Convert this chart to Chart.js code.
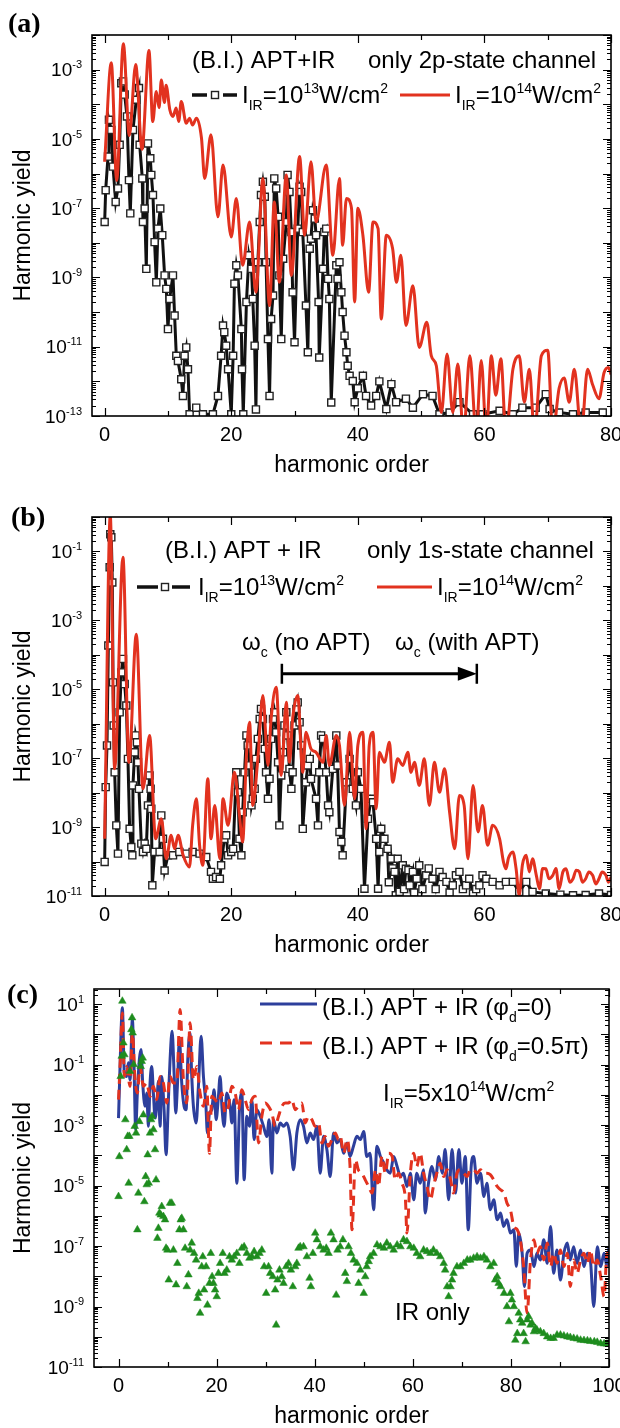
<!DOCTYPE html>
<html><head><meta charset="utf-8">
<script src="https://cdn.jsdelivr.net/npm/chart.js@4.4.1/dist/chart.umd.min.js"></script>
<style>html,body{margin:0;padding:0;background:#fff;}canvas{display:block;}</style>
</head><body>
<canvas id="ca" width="620" height="476"></canvas>
<canvas id="cb" width="620" height="476"></canvas>
<canvas id="cc" width="620" height="476"></canvas>
<script>
// ---------- DATA : [harmonic order, log10(yield)] ----------
const aRed = [[0,-5.66],[1.05,-2.8],[1.9,-6.2],[2.95,-2.25],[3.9,-4.9],[4.9,-2.85],[5.9,-5.3],[7.0,-2.45],[7.6,-4.5],[8.15,-3.63],[8.6,-4.1],[8.95,-3.3],[9.45,-3.95],[9.7,-3.45],[10.3,-4.16],[10.8,-4.35],[11.3,-4.11],[11.7,-4.5],[12.1,-3.92],[12.9,-4.55],[13.4,-4.4],[13.9,-4.6],[14.5,-4.4],[15.3,-4.98],[15.8,-6.14],[16.8,-4.88],[17.9,-7.25],[18.7,-5.75],[20.0,-7.83],[20.8,-6.72],[21.8,-8.65],[22.9,-7.4],[23.9,-9.43],[25.0,-6.14],[26.05,-9.81],[26.8,-6.82],[27.6,-9.14],[28.7,-6.04],[29.5,-8.94],[30.8,-5.51],[31.6,-7.78],[32.6,-5.66],[33.4,-7.4],[35.0,-5.75],[36.05,-8.36],[37.1,-6.14],[37.6,-8.07],[38.2,-6.72],[39.0,-7.0],[39.5,-9.71],[40.0,-7.0],[40.8,-7.78],[41.7,-9.43],[42.4,-7.4],[43.2,-7.59],[43.7,-10.2],[44.5,-7.78],[45.5,-8.17],[46.1,-9.14],[46.8,-8.36],[47.6,-10.39],[48.7,-9.24],[49.7,-11.02],[50.9,-10.29],[51.6,-11.26],[52.4,-11.55],[53.2,-12.9],[54.1,-11.21],[55.0,-12.9],[55.8,-11.5],[56.7,-13.5],[57.7,-11.26],[58.7,-13.5],[59.5,-11.4],[60.3,-13.5],[61.1,-11.26],[61.8,-12.4],[62.6,-11.35],[63.4,-13.5],[64.5,-11.65],[65.5,-11.26],[66.3,-12.6],[67.1,-11.65],[67.9,-13.5],[69.0,-11.26],[70.0,-11.1],[70.8,-13.5],[71.8,-12.2],[72.6,-11.9],[73.4,-12.6],[74.2,-11.65],[75.3,-13.5],[76.3,-11.65],[77.1,-12.1],[78.1,-12.5],[78.9,-11.75],[79.6,-11.6],[80,-11.8]];
const aBlk = [[0,-7.4],[0.16,-6.48],[0.53,-5.51],[0.68,-4.45],[1.05,-4.74],[1.32,-5.8],[1.74,-6.82],[2.1,-6.43],[2.37,-5.17],[2.63,-3.39],[2.89,-3.34],[3.16,-3.72],[3.53,-4.35],[3.84,-6.19],[4.05,-7.15],[4.47,-4.74],[5.0,-3.87],[5.42,-3.53],[5.53,-5.17],[5.95,-6.14],[6.05,-7.4],[6.32,-7.01],[6.58,-8.75],[6.84,-5.13],[7.21,-5.56],[7.37,-6.04],[7.63,-6.62],[7.89,-7.98],[8.16,-9.14],[8.42,-7.59],[8.79,-7.01],[9.1,-7.78],[9.47,-8.94],[9.74,-9.33],[10.0,-10.49],[10.26,-9.62],[10.79,-8.94],[11.05,-10.1],[11.32,-11.26],[11.58,-11.41],[12.1,-11.94],[12.37,-12.42],[12.63,-11.26],[12.89,-11.02],[13.16,-11.65],[13.42,-12.95],[14.47,-12.76],[15.53,-12.95],[17.1,-12.95],[17.9,-12.42],[18.4,-11.26],[18.7,-10.39],[18.9,-10.58],[19.2,-10.97],[19.5,-11.65],[20.0,-12.95],[20.3,-11.26],[20.5,-9.18],[20.8,-8.65],[21.05,-8.94],[21.6,-10.49],[21.7,-11.65],[21.9,-12.95],[22.4,-9.71],[22.8,-8.36],[23.2,-8.75],[23.4,-9.62],[23.7,-10.97],[23.9,-12.81],[24.2,-8.56],[24.5,-7.4],[24.7,-6.62],[25.0,-6.24],[25.3,-6.67],[25.5,-8.56],[25.8,-10.78],[26.05,-12.42],[26.3,-10.2],[26.6,-9.52],[26.8,-6.14],[27.1,-6.43],[27.4,-7.25],[27.6,-8.94],[27.9,-10.78],[28.2,-8.46],[28.7,-7.4],[28.9,-6.04],[29.2,-6.53],[29.5,-7.69],[29.7,-9.43],[30.0,-10.87],[30.5,-7.59],[30.8,-6.38],[31.05,-6.53],[31.3,-7.69],[31.8,-9.81],[32.1,-11.16],[32.4,-8.17],[32.6,-7.88],[32.9,-7.06],[33.2,-7.3],[33.4,-7.78],[33.8,-9.71],[33.9,-11.31],[34.5,-8.75],[34.7,-7.69],[35.0,-7.59],[35.3,-9.04],[35.5,-9.62],[35.8,-12.61],[36.6,-8.65],[36.8,-9.04],[37.1,-8.56],[37.4,-9.43],[37.6,-10.0],[37.9,-10.68],[38.2,-11.16],[38.4,-11.55],[38.7,-11.84],[39.2,-11.99],[39.5,-12.6],[40.0,-12.2],[40.8,-11.84],[41.3,-12.42],[42.1,-12.7],[42.9,-12.42],[43.4,-12.0],[44.5,-12.8],[45.3,-12.08],[46.05,-12.6],[47.6,-12.5],[48.7,-12.76],[50.3,-12.37],[51.8,-12.42],[52.9,-12.95],[54.5,-12.9],[56.05,-12.6],[58.2,-12.95],[59.7,-12.95],[62.4,-12.85],[64.5,-12.95],[66.0,-12.76],[68.1,-12.76],[69.7,-12.37],[70.3,-12.8],[71.8,-12.9],[74.0,-12.95],[76.0,-12.9],[78.7,-12.9]];
const bRed = [[0,-9.34],[0.89,0.05],[1.58,-7.31],[2.89,-1.17],[3.84,-7.12],[5.0,-3.4],[6.05,-7.89],[7.1,-6.34],[8.05,-9.34],[8.95,-8.76],[9.74,-9.92],[10.5,-9.24],[11.05,-9.63],[11.6,-9.24],[12.4,-9.82],[13.4,-10.16],[13.9,-8.95],[14.5,-8.18],[15.0,-9.53],[15.5,-10.11],[16.3,-7.6],[16.8,-9.34],[17.4,-8.37],[18.2,-9.92],[18.7,-8.18],[19.5,-8.95],[20.5,-7.41],[21.3,-8.66],[21.8,-9.43],[22.4,-6.92],[22.9,-5.96],[23.4,-8.37],[24.2,-7.02],[25.0,-5.18],[25.8,-7.21],[26.3,-5.86],[27.1,-4.94],[27.9,-7.5],[28.7,-5.38],[29.2,-7.12],[29.7,-5.86],[30.5,-5.18],[31.3,-7.41],[31.8,-6.25],[32.6,-6.73],[33.4,-6.83],[34.5,-7.12],[35.0,-6.34],[35.5,-7.21],[36.6,-6.34],[37.1,-6.63],[37.9,-8.37],[38.7,-6.25],[39.5,-8.18],[40.0,-6.63],[40.8,-6.25],[41.3,-9.05],[41.8,-6.63],[42.4,-6.25],[42.9,-8.47],[43.4,-6.83],[44.2,-7.12],[45.0,-6.54],[45.5,-7.7],[46.3,-7.02],[47.1,-7.21],[47.9,-6.83],[48.4,-7.41],[48.95,-7.12],[49.7,-7.79],[50.5,-7.02],[51.3,-8.37],[52.1,-7.12],[52.9,-7.99],[53.7,-7.31],[54.5,-8.57],[55.3,-9.63],[56.05,-8.08],[56.8,-8.37],[57.4,-9.92],[58.2,-7.79],[59.0,-9.14],[59.7,-8.37],[60.5,-9.53],[61.3,-8.95],[62.4,-9.34],[63.0,-10.0],[63.4,-10.21],[63.8,-9.9],[64.5,-9.72],[65.0,-10.2],[65.5,-10.98],[66.0,-10.1],[66.6,-9.82],[67.1,-10.3],[67.6,-9.92],[68.2,-10.4],[68.7,-10.79],[69.2,-10.2],[69.7,-10.21],[70.2,-10.5],[70.8,-10.4],[71.3,-10.2],[71.8,-10.79],[72.4,-10.3],[72.9,-10.21],[73.5,-10.6],[74.0,-10.5],[74.5,-10.25],[75.0,-10.3],[75.5,-10.6],[76.0,-10.5],[76.5,-10.3],[77.1,-10.4],[77.6,-10.65],[78.1,-10.5],[78.6,-10.3],[79.2,-10.4],[79.6,-10.6],[80,-10.45]];
const bBlk = [[0,-10.01],[0.16,-7.84],[0.37,-6.63],[0.58,-3.73],[0.79,-1.46],[0.89,-0.5],[1.05,-0.59],[1.21,-1.9],[1.32,-4.8],[1.42,-6.05],[1.58,-7.41],[1.84,-8.95],[2.1,-9.77],[2.37,-5.67],[2.63,-4.51],[2.89,-4.12],[3.16,-4.85],[3.42,-5.47],[3.68,-7.02],[3.95,-9.05],[4.21,-9.58],[4.37,-9.82],[4.47,-7.79],[4.74,-6.83],[4.89,-6.34],[5.1,-6.54],[5.26,-7.12],[5.42,-7.89],[5.79,-9.48],[6.05,-9.72],[6.32,-9.48],[6.58,-9.63],[6.84,-8.37],[7.1,-7.5],[7.26,-7.89],[7.37,-8.47],[7.53,-10.69],[7.89,-9.72],[8.68,-9.72],[8.95,-8.66],[9.21,-9.34],[9.47,-10.26],[10.0,-9.82],[10.8,-9.82],[11.8,-9.72],[12.9,-9.77],[13.9,-9.72],[15.0,-9.77],[16.05,-9.87],[16.8,-10.3],[17.1,-10.5],[17.6,-10.45],[18.2,-10.5],[18.4,-10.11],[18.9,-9.34],[19.2,-9.24],[19.5,-9.82],[20.0,-9.72],[20.3,-9.63],[20.8,-7.41],[21.05,-7.99],[21.3,-9.34],[21.6,-9.82],[21.8,-8.57],[22.1,-7.41],[22.4,-6.34],[22.6,-6.63],[22.9,-7.21],[23.2,-8.37],[23.4,-8.18],[23.7,-7.89],[23.9,-7.02],[24.2,-6.44],[24.5,-5.86],[24.7,-5.57],[25.0,-5.86],[25.3,-6.73],[25.5,-7.41],[25.8,-8.18],[26.05,-7.6],[26.3,-6.44],[26.6,-5.86],[26.8,-5.67],[27.1,-6.25],[27.4,-7.12],[27.6,-8.95],[27.9,-7.5],[28.2,-6.83],[28.4,-6.05],[28.7,-5.67],[28.9,-6.34],[29.2,-7.31],[29.5,-7.89],[29.7,-7.41],[30.0,-6.05],[30.3,-5.57],[30.5,-5.38],[30.8,-5.96],[31.05,-6.63],[31.3,-9.05],[31.8,-7.7],[32.1,-7.21],[32.4,-7.02],[32.6,-7.6],[33.4,-8.18],[33.7,-8.95],[33.9,-7.41],[34.2,-6.34],[34.5,-6.44],[35.0,-7.41],[35.3,-8.37],[35.5,-8.57],[36.05,-7.31],[36.6,-6.34],[36.8,-7.21],[37.1,-9.14],[37.4,-9.43],[37.6,-9.82],[38.2,-7.7],[38.7,-7.02],[39.2,-7.89],[39.7,-8.37],[40.0,-7.41],[40.5,-7.89],[41.05,-10.79],[41.6,-8.76],[42.1,-8.18],[42.4,-8.28],[42.9,-9.34],[43.2,-10.79],[43.4,-9.72],[43.7,-9.05],[44.2,-9.34],[44.7,-9.63],[44.9,-10.6],[45.3,-9.92],[45.5,-10.2],[45.8,-10.3],[46.0,-10.98],[46.3,-9.92],[46.6,-10.88],[47.1,-10.11],[47.3,-10.8],[47.6,-10.21],[48.0,-10.25],[48.2,-10.69],[48.7,-10.3],[48.9,-10.9],[49.3,-10.5],[49.7,-10.11],[50.2,-10.8],[50.8,-10.4],[51.2,-10.2],[51.8,-10.5],[52.3,-10.8],[52.9,-10.3],[53.4,-10.45],[54.0,-10.59],[54.5,-10.9],[55.0,-10.69],[55.5,-10.4],[56.05,-10.3],[56.6,-10.8],[57.1,-10.69],[57.6,-10.5],[58.2,-10.93],[58.7,-10.8],[59.2,-10.69],[59.7,-10.4],[60.3,-10.5],[61.3,-10.59],[62.4,-10.69],[63.4,-10.59],[64.5,-10.59],[65.5,-10.88],[66.6,-10.59],[67.6,-10.88],[69.7,-10.93],[72.0,-10.96],[74.0,-10.98],[76.0,-10.97],[78.1,-10.93],[80,-10.97]];
const cBlue = [[0,-2.77],[0.31,-1.06],[0.78,0.88],[1.19,-1.28],[1.67,-1.39],[2.0,-0.94],[2.35,-1.5],[2.82,0.49],[3.16,-1.06],[3.5,-3.15],[3.84,-1.94],[4.25,-0.83],[4.59,-0.5],[4.93,-1.61],[5.41,-2.38],[5.75,-1.94],[6.09,-3.04],[6.43,-1.61],[6.77,-1.06],[7.11,-1.94],[7.45,-2.77],[7.79,-2.38],[8.13,-1.55],[8.47,-3.04],[8.81,-1.39],[9.29,-2.49],[9.69,-3.98],[10.17,-2.16],[10.51,-0.83],[10.92,0.1],[11.33,-1.28],[11.67,-2.6],[12.0,-1.72],[12.41,-0.17],[12.89,-1.61],[13.37,-2.38],[13.78,-2.49],[14.12,-0.83],[14.59,0.05],[14.93,-1.39],[15.27,-2.38],[15.82,-2.93],[16.29,-1.72],[16.84,-0.06],[17.31,-1.39],[17.79,-2.27],[18.13,-3.26],[18.54,-2.6],[19.01,-2.49],[19.49,-1.83],[19.9,-2.82],[20.37,-2.05],[20.71,-1.39],[21.12,-2.49],[21.53,-3.04],[22.07,-1.94],[22.76,-2.38],[23.1,-2.93],[23.57,-2.16],[24.12,-4.92],[24.66,-2.49],[25.14,-1.94],[25.61,-4.81],[26.16,-2.71],[26.7,-3.04],[27.18,-2.16],[27.65,-3.48],[28.2,-2.49],[28.88,-2.71],[29.56,-3.04],[30.24,-3.38],[30.71,-2.82],[31.26,-4.59],[31.6,-2.82],[32.28,-3.26],[32.96,-2.93],[33.64,-3.04],[34.32,-2.93],[35.0,-3.38],[35.68,-4.48],[36.36,-3.26],[37.04,-2.82],[37.72,-3.04],[38.4,-3.59],[39.08,-3.26],[39.76,-3.48],[40.44,-3.04],[41.12,-4.59],[41.8,-3.37],[42.48,-3.81],[43.16,-4.7],[43.84,-3.26],[44.52,-3.59],[45.2,-3.48],[45.9,-3.93],[46.6,-3.59],[47.2,-4.04],[47.9,-3.7],[48.6,-3.37],[49.3,-3.48],[50.0,-3.21],[50.6,-4.04],[51.3,-3.93],[52.0,-5.8],[52.7,-3.7],[53.4,-4.04],[54.1,-4.26],[54.7,-4.48],[55.4,-4.59],[56.1,-4.04],[56.8,-4.37],[57.5,-4.7],[58.1,-4.59],[58.8,-5.03],[59.5,-4.59],[60.2,-5.47],[60.8,-4.59],[61.5,-4.92],[62.2,-4.48],[62.5,-5.91],[63.2,-4.92],[63.9,-4.37],[64.6,-4.81],[65.3,-4.04],[66.0,-4.59],[66.6,-3.81],[67.3,-5.47],[68.0,-3.81],[68.7,-5.25],[69.4,-3.81],[70.0,-4.92],[70.7,-4.04],[71.3,-6.46],[71.9,-4.37],[72.4,-4.04],[73.1,-4.92],[73.8,-4.59],[74.5,-5.36],[75.1,-4.92],[75.8,-5.8],[76.5,-5.47],[77.2,-6.13],[77.9,-5.91],[78.5,-6.35],[79.2,-6.13],[79.9,-6.57],[80.6,-6.46],[81.1,-7.67],[81.6,-6.57],[82.3,-7.24],[82.75,-8.34],[83.3,-7.24],[84.0,-7.13],[84.7,-7.68],[85.3,-7.24],[86.0,-7.46],[86.7,-6.79],[87.4,-7.57],[88.1,-6.35],[88.7,-7.9],[89.4,-7.13],[90.1,-8.12],[90.8,-7.24],[91.5,-6.9],[92.1,-7.46],[92.8,-7.02],[93.5,-7.57],[94.2,-7.13],[94.9,-7.68],[95.6,-7.24],[96.2,-7.46],[96.9,-9.0],[97.6,-7.02],[98.3,-7.68],[99.0,-7.24],[99.6,-7.68],[100,-7.02]];
const cRed = [[0,-2.16],[0.31,-1.06],[0.78,0.71],[1.19,-1.39],[1.67,-1.06],[2.35,-1.72],[2.82,0.05],[3.37,-1.5],[3.84,-1.94],[4.39,-1.06],[5.07,-1.72],[5.75,-1.61],[6.43,-2.05],[7.11,-1.72],[7.79,-2.16],[8.47,-1.39],[9.15,-1.61],[9.83,-2.27],[10.51,-1.39],[11.19,-1.61],[11.87,-1.61],[12.55,0.82],[13.23,-1.5],[13.91,-2.27],[14.59,0.38],[15.27,-1.5],[15.95,-1.06],[16.63,-1.94],[17.31,-2.38],[17.99,-1.72],[18.54,-3.93],[19.01,-2.05],[19.69,-2.16],[20.37,-2.27],[21.05,-1.94],[21.73,-2.6],[22.41,-2.38],[23.1,-1.72],[23.78,-1.94],[24.46,-2.49],[25.14,-1.83],[25.82,-2.16],[26.5,-2.49],[27.18,-2.16],[27.86,-2.05],[28.54,-3.59],[29.22,-2.71],[29.9,-2.27],[30.58,-2.38],[31.26,-2.6],[31.94,-3.04],[32.62,-2.71],[33.3,-2.38],[33.98,-2.27],[34.66,-2.27],[35.34,-2.16],[36.02,-2.49],[36.7,-2.38],[37.38,-2.27],[38.06,-2.93],[38.74,-2.71],[39.42,-2.82],[40.1,-3.04],[40.78,-2.93],[41.46,-3.59],[42.14,-3.38],[42.82,-3.7],[43.5,-3.48],[44.18,-3.26],[44.86,-3.48],[45.2,-3.37],[45.9,-3.93],[46.6,-3.48],[47.2,-4.37],[47.6,-6.46],[48.3,-4.15],[48.9,-4.48],[49.6,-4.59],[50.3,-4.81],[51.0,-5.03],[51.7,-5.25],[52.4,-4.48],[53.0,-5.03],[53.7,-4.04],[54.4,-4.59],[55.1,-3.93],[55.8,-4.04],[56.4,-4.81],[57.1,-4.59],[57.8,-4.92],[58.5,-5.47],[58.8,-6.57],[59.5,-4.59],[60.2,-3.93],[60.8,-4.37],[61.5,-3.93],[62.2,-4.59],[62.9,-5.03],[63.6,-5.47],[64.2,-5.03],[64.9,-4.59],[65.6,-4.26],[66.3,-4.7],[67.0,-4.48],[67.7,-4.81],[68.3,-5.25],[69.0,-4.59],[69.7,-4.48],[70.4,-4.59],[71.1,-4.7],[71.7,-4.48],[72.4,-4.48],[73.1,-4.59],[73.8,-4.48],[74.5,-4.59],[75.1,-4.59],[75.8,-4.64],[76.5,-4.81],[77.2,-5.03],[77.9,-5.14],[78.6,-5.25],[79.2,-5.58],[79.9,-5.8],[80.6,-6.35],[81.3,-6.46],[81.9,-6.79],[82.6,-7.68],[83.3,-9.22],[84.0,-7.46],[84.7,-6.79],[85.3,-7.24],[86.0,-7.02],[86.7,-7.46],[87.4,-6.9],[88.1,-7.68],[88.7,-7.24],[89.4,-7.57],[90.1,-7.13],[90.8,-7.68],[91.5,-7.24],[92.1,-8.34],[92.8,-7.46],[93.5,-7.9],[94.2,-7.46],[94.9,-7.24],[95.6,-7.57],[96.2,-7.13],[96.9,-7.68],[97.6,-7.46],[98.3,-8.01],[99.0,-8.67],[99.6,-7.24],[100,-7.3]];
const cGreen = [[0,-5.36],[0.17,-4.04],[0.44,-1.39],[0.65,-0.72],[0.78,1.1],[0.99,-0.28],[1.19,-0.67],[1.39,-2.82],[1.67,-3.81],[1.87,-3.37],[2.07,-4.92],[2.21,-3.37],[2.35,-1.22],[2.62,0.16],[2.76,0.55],[2.89,0.05],[3.1,-1.0],[3.3,-3.04],[3.57,-3.26],[3.84,-6.46],[4.05,-5.25],[4.25,-2.88],[4.52,-1.06],[4.73,-0.89],[4.93,-0.78],[5.07,-2.66],[5.27,-5.53],[5.54,-4.7],[5.75,-4.97],[5.95,-3.98],[6.16,-4.92],[6.43,-3.26],[6.63,-2.82],[6.84,-2.71],[7.11,-3.15],[7.45,-3.81],[7.65,-4.81],[7.93,-6.74],[8.13,-6.41],[8.33,-5.91],[8.61,-5.97],[8.81,-5.69],[9.15,-6.02],[9.49,-6.13],[9.69,-7.07],[9.97,-7.13],[10.24,-8.12],[10.51,-5.58],[10.85,-5.58],[11.19,-7.13],[11.73,-8.28],[12.0,-7.57],[12.41,-6.46],[12.69,-6.13],[12.89,-6.08],[13.23,-6.46],[13.57,-7.07],[13.91,-8.34],[14.25,-7.95],[14.59,-7.13],[14.93,-6.9],[15.41,-7.24],[15.82,-7.46],[16.09,-8.73],[16.36,-8.56],[16.63,-9.22],[16.97,-7.68],[17.18,-7.35],[17.45,-8.45],[17.86,-7.68],[18.13,-8.95],[18.54,-8.23],[18.81,-7.24],[19.08,-8.01],[19.35,-8.23],[19.69,-8.45],[20.03,-8.67],[20.37,-7.9],[20.71,-7.57],[21.26,-7.24],[21.6,-7.9],[22.07,-7.79],[22.62,-7.35],[23.1,-7.46],[23.57,-7.35],[24.12,-7.24],[24.66,-7.57],[25.14,-7.07],[25.61,-7.02],[26.16,-7.24],[26.7,-7.4],[27.18,-7.35],[27.65,-7.18],[28.2,-7.35],[28.74,-7.24],[29.22,-7.13],[29.69,-7.68],[30.1,-8.56],[30.58,-7.68],[30.92,-7.9],[31.46,-8.01],[31.94,-8.45],[32.14,-9.61],[32.41,-8.12],[32.82,-7.79],[33.3,-8.01],[33.64,-8.23],[34.18,-7.68],[34.66,-7.57],[35.14,-7.79],[35.54,-8.34],[36.02,-7.68],[36.36,-7.57],[36.7,-7.07],[37.04,-7.02],[37.72,-7.02],[38.4,-7.35],[38.95,-8.06],[39.22,-8.34],[39.63,-7.24],[40.1,-6.57],[40.44,-6.79],[41.12,-7.02],[41.8,-7.13],[42.35,-7.07],[42.82,-7.24],[43.3,-6.57],[43.84,-6.79],[44.38,-8.62],[44.65,-7.13],[45.2,-7.02],[45.75,-6.79],[46.22,-7.9],[46.56,-8.17],[46.9,-7.02],[47.38,-7.24],[47.93,-7.46],[48.6,-7.57],[48.95,-8.23],[49.3,-7.79],[50.0,-8.56],[50.3,-8.01],[50.6,-7.68],[51.0,-7.51],[51.3,-7.35],[52.0,-7.24],[52.7,-6.96],[53.4,-7.02],[54.1,-7.07],[54.7,-6.9],[55.4,-7.02],[56.1,-7.13],[56.8,-6.96],[57.5,-7.02],[58.1,-6.79],[58.8,-6.85],[59.5,-7.02],[60.2,-7.07],[60.8,-7.24],[61.5,-7.35],[62.2,-7.13],[62.9,-7.18],[63.6,-7.24],[64.2,-7.13],[64.9,-7.24],[65.6,-7.35],[66.3,-7.57],[66.6,-7.79],[67.0,-8.34],[67.3,-8.67],[67.7,-8.34],[68.0,-8.12],[68.3,-7.9],[69.0,-7.68],[69.7,-7.68],[70.4,-7.57],[71.1,-7.46],[71.7,-7.46],[72.4,-7.4],[73.1,-7.35],[73.8,-7.4],[74.5,-7.35],[75.1,-7.46],[75.8,-7.68],[76.5,-7.57],[76.8,-8.12],[77.2,-8.01],[77.5,-8.23],[77.9,-8.34],[78.6,-8.56],[79.2,-9.0],[79.6,-9.5],[79.9,-8.56],[80.2,-8.78],[80.6,-9.0],[80.9,-10.11],[81.3,-9.89],[81.6,-9.22],[81.9,-9.44],[82.3,-9.55],[82.6,-9.89],[83.0,-10.16],[83.3,-9.44],[83.6,-9.33],[84.0,-9.61],[84.3,-9.55],[84.7,-9.83],[85.0,-9.72],[85.3,-9.77],[86.0,-9.83],[86.7,-9.89],[87.4,-10.0],[88.1,-10.05],[88.7,-10.05],[89.4,-9.94],[90.1,-9.94],[90.8,-9.97],[91.5,-10.0],[92.1,-10.02],[92.8,-10.05],[93.5,-10.07],[94.2,-10.11],[94.9,-10.12],[95.6,-10.13],[96.2,-10.15],[97.0,-10.16],[97.6,-10.18],[98.3,-10.22],[99.0,-10.23],[99.6,-10.24]];
// tick labels
const abXTicks = [0, 20, 40, 60, 80];
const cXTicks = [0, 20, 40, 60, 80, 100];
const aYExps = [-3, -5, -7, -9, -11, -13];
const bYExps = [-1, -3, -5, -7, -9, -11];
const cYExps = [1, -1, -3, -5, -7, -9, -11];
// annotation arrow in (b): from omega_c(no APT) to omega_c(with APT)
const bArrow = {from: 28, to: 58.8, exp: -4.55};

// ---------- drawing ----------
const RED = '#e2321f', BLUE = '#2d3f9c', GREEN = '#1e8c1e';
const FONT = '"Liberation Sans", Arial, Helvetica, sans-serif';
function pts(a){ return a.map(p => ({x: p[0], y: Math.pow(10, p[1])})); }
function rich(ctx, x, ym, parts, size, align){
  const small = Math.round(size * 0.6);
  let w = 0;
  for (const [t, m] of parts){ ctx.font = (m ? small : size) + 'px ' + FONT; w += ctx.measureText(t).width; }
  let cx = align === 'right' ? x - w : (align === 'center' ? x - w / 2 : x);
  const base = ym + size * 0.35;
  ctx.textAlign = 'left'; ctx.textBaseline = 'alphabetic';
  for (const [t, m] of parts){
    ctx.font = (m ? small : size) + 'px ' + FONT;
    const dy = m === 1 ? -size * 0.42 : (m === -1 ? size * 0.28 : 0);
    ctx.fillText(t, cx, base + dy);
    cx += ctx.measureText(t).width;
  }
}
function seg(ctx, x1, y1, x2, y2){ ctx.beginPath(); ctx.moveTo(x1, y1); ctx.lineTo(x2, y2); ctx.stroke(); }
function frame(spec){
  return { id: 'frame', afterDatasetsDraw(chart){
    const ctx = chart.ctx, a = chart.chartArea, xs = chart.scales.x, ys = chart.scales.y;
    ctx.save();
    ctx.strokeStyle = '#000'; ctx.fillStyle = '#000'; ctx.setLineDash([]);
    ctx.lineWidth = 1.2;
    ctx.beginPath();
    const e0 = Math.floor(Math.log10(ys.min) + 1e-9), e1 = Math.ceil(Math.log10(ys.max) - 1e-9);
    for (let e = e0; e <= e1; e++) for (let k = 1; k < 10; k++){
      const v = k * Math.pow(10, e);
      if (v < ys.min * 0.999 || v > ys.max * 1.001) continue;
      const py = Math.round(ys.getPixelForValue(v)) + 0.5, L = k === 1 ? 8 : 4;
      ctx.moveTo(a.left, py); ctx.lineTo(a.left + L, py);
      ctx.moveTo(a.right, py); ctx.lineTo(a.right - L, py);
    }
    for (let v = Math.ceil(xs.min / spec.xStep) * spec.xStep; v <= xs.max + 1e-9; v += spec.xStep){
      const px = Math.round(xs.getPixelForValue(v)) + 0.5, L = spec.xLabels.includes(v) ? 8 : 5;
      ctx.moveTo(px, a.bottom); ctx.lineTo(px, a.bottom - L);
      ctx.moveTo(px, a.top); ctx.lineTo(px, a.top + L);
    }
    ctx.stroke();
    ctx.lineWidth = 1.6;
    ctx.strokeRect(a.left, a.top, a.right - a.left, a.bottom - a.top);
    // tick labels
    ctx.font = '20px ' + FONT; ctx.textAlign = 'center'; ctx.textBaseline = 'middle';
    spec.xLabels.forEach(v => ctx.fillText(String(v), xs.getPixelForValue(v), a.bottom + 19));
    spec.yExps.forEach(e => rich(ctx, a.left - 10, ys.getPixelForValue(Math.pow(10, e)), [['10', 0], [String(e), 1]], 19, 'right'));
    // titles
    ctx.font = '23px ' + FONT; ctx.textAlign = 'center'; ctx.textBaseline = 'middle';
    ctx.fillText('harmonic order', (a.left + a.right) / 2, a.bottom + 50);
    ctx.save(); ctx.translate(24, (a.top + a.bottom) / 2); ctx.rotate(-Math.PI / 2);
    ctx.fillText('Harmonic yield', 0, 0); ctx.restore();
    ctx.font = 'bold 28px "Liberation Serif", "Times New Roman", serif'; ctx.textAlign = 'left'; ctx.textBaseline = 'middle';
    ctx.fillText(spec.tag, spec.tagX, spec.tagY);
    spec.extra(ctx, chart);
    ctx.restore();
  }};
}
function blackKey(ctx, x1, x2, x3, x4, sq, y){
  ctx.strokeStyle = '#111'; ctx.lineWidth = 3.5; ctx.setLineDash([]);
  seg(ctx, x1, y, x2, y); seg(ctx, x3, y, x4, y);
  ctx.fillStyle = '#fff'; ctx.fillRect(sq - 3.5, y - 3.5, 7, 7);
  ctx.strokeStyle = '#222'; ctx.lineWidth = 1.4; ctx.strokeRect(sq - 3.5, y - 3.5, 7, 7);
  ctx.fillStyle = '#000';
}
function baseOpts(xmin, xmax, ymin, ymax, pad){
  return { responsive: false, animation: false, devicePixelRatio: 1, events: [],
    layout: {padding: pad},
    scales: { x: {type: 'linear', min: xmin, max: xmax, display: false},
              y: {type: 'logarithmic', min: ymin, max: ymax, display: false} },
    plugins: {legend: {display: false}, tooltip: {enabled: false}} };
}
const redLine = d => ({data: pts(d), borderColor: RED, borderWidth: 3, pointRadius: 0, cubicInterpolationMode: 'monotone', order: 1, clip: 0});
const blkLine = d => ({data: pts(d), borderColor: '#111', borderWidth: 3, tension: 0, pointStyle: 'rect', pointRadius: 5,
  pointBackgroundColor: '#fff', pointBorderColor: '#222', pointBorderWidth: 1.4, order: 2, clip: 0});

// ---- panel (a)
new Chart(document.getElementById('ca'), {
  type: 'line',
  data: {datasets: [redLine(aRed), blkLine(aBlk)]},
  options: baseOpts(-2, 80, 1e-13, 1e-2, {left: 92, right: 9, top: 35, bottom: 60}),
  plugins: [frame({tag: '(a)', tagX: 8, tagY: 25, xStep: 10, xLabels: abXTicks, yExps: aYExps, extra(ctx){
    ctx.fillStyle = '#000';
    rich(ctx, 192, 60, [['(B.I.) APT+IR', 0]], 24);
    rich(ctx, 368, 60, [['only 2p-state channel', 0]], 24);
    blackKey(ctx, 192, 207, 223, 237, 215, 95);
    rich(ctx, 242, 95, [['I', 0], ['IR', -1], ['=10', 0], ['13', 1], ['W/cm', 0], ['2', 1]], 24);
    ctx.strokeStyle = RED; ctx.lineWidth = 3; seg(ctx, 400, 95, 450, 95);
    rich(ctx, 455, 95, [['I', 0], ['IR', -1], ['=10', 0], ['14', 1], ['W/cm', 0], ['2', 1]], 24);
  }})]
});

// ---- panel (b)
new Chart(document.getElementById('cb'), {
  type: 'line',
  data: {datasets: [redLine(bRed), blkLine(bBlk)]},
  options: baseOpts(-2, 80, 1e-11, 1, {left: 92, right: 9, top: 41, bottom: 56}),
  plugins: [frame({tag: '(b)', tagX: 11, tagY: 43, xStep: 10, xLabels: abXTicks, yExps: bYExps, extra(ctx, chart){
    const xs = chart.scales.x, ys = chart.scales.y;
    ctx.fillStyle = '#000';
    rich(ctx, 165, 74, [['(B.I.) APT + IR', 0]], 24);
    rich(ctx, 367, 74, [['only 1s-state channel', 0]], 24);
    blackKey(ctx, 137, 158, 172, 190, 165, 111);
    rich(ctx, 198, 111, [['I', 0], ['IR', -1], ['=10', 0], ['13', 1], ['W/cm', 0], ['2', 1]], 24);
    ctx.strokeStyle = RED; ctx.lineWidth = 3; seg(ctx, 377, 111, 432, 111);
    rich(ctx, 437, 111, [['I', 0], ['IR', -1], ['=10', 0], ['14', 1], ['W/cm', 0], ['2', 1]], 24);
    rich(ctx, 242, 166, [['\u03c9', 0], ['c', -1], [' (no APT)', 0]], 24);
    rich(ctx, 395, 166, [['\u03c9', 0], ['c', -1], [' (with APT)', 0]], 24);
    const x0 = xs.getPixelForValue(bArrow.from), x1 = xs.getPixelForValue(bArrow.to), y0 = ys.getPixelForValue(Math.pow(10, bArrow.exp));
    ctx.strokeStyle = '#000'; ctx.lineWidth = 3;
    seg(ctx, x0, y0, x1 - 14, y0);
    ctx.lineWidth = 2.5; seg(ctx, x0, y0 - 10, x0, y0 + 10); seg(ctx, x1, y0 - 10, x1, y0 + 10);
    ctx.beginPath(); ctx.moveTo(x1, y0); ctx.lineTo(x1 - 19, y0 - 7); ctx.lineTo(x1 - 19, y0 + 7); ctx.closePath(); ctx.fill();
  }})]
});

// ---- panel (c)
new Chart(document.getElementById('cc'), {
  type: 'line',
  data: {datasets: [
    {data: pts(cGreen), showLine: false, pointStyle: 'triangle', pointRadius: 4.4, pointBackgroundColor: GREEN, pointBorderColor: GREEN, pointBorderWidth: 0.5, order: 1, clip: 0},
    {data: pts(cRed), borderColor: RED, borderWidth: 3, borderDash: [10, 6], pointRadius: 0, cubicInterpolationMode: 'monotone', order: 2, clip: 0},
    {data: pts(cBlue), borderColor: BLUE, borderWidth: 3, pointRadius: 0, cubicInterpolationMode: 'monotone', order: 3, clip: 0}
  ]},
  options: baseOpts(-5, 100, 1e-11, Math.pow(10, 1.5), {left: 94, right: 11, top: 37, bottom: 61}),
  plugins: [frame({tag: '(c)', tagX: 7, tagY: 44, xStep: 10, xLabels: cXTicks, yExps: cYExps, extra(ctx){
    ctx.fillStyle = '#000';
    ctx.strokeStyle = BLUE; ctx.lineWidth = 3; ctx.setLineDash([]); seg(ctx, 260, 52, 317, 52);
    rich(ctx, 322, 55, [['(B.I.) APT + IR (', 0], ['\u03c6', 0], ['d', -1], ['=0)', 0]], 24);
    ctx.strokeStyle = RED; ctx.setLineDash([12, 8]); seg(ctx, 260, 91, 317, 91); ctx.setLineDash([]);
    rich(ctx, 322, 94, [['(B.I.) APT + IR (', 0], ['\u03c6', 0], ['d', -1], ['=0.5\u03c0)', 0]], 24);
    rich(ctx, 383, 141, [['I', 0], ['IR', -1], ['=5x10', 0], ['14', 1], ['W/cm', 0], ['2', 1]], 24);
    rich(ctx, 395, 360, [['IR only', 0]], 24);
  }})]
});
</script>
</body></html>
